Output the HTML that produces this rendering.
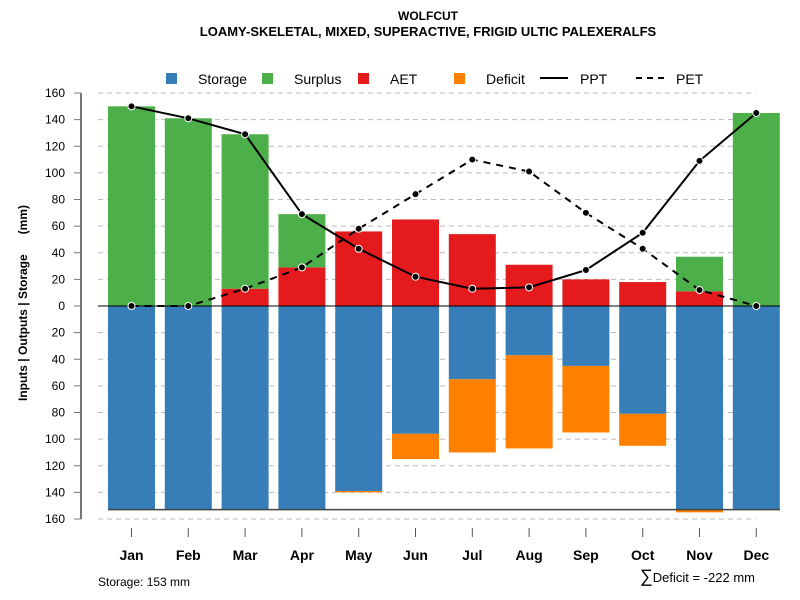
<!DOCTYPE html>
<html><head><meta charset="utf-8"><style>body{margin:0;background:#fff}svg{display:block;font-family:"Liberation Sans",Arial,sans-serif}</style></head>
<body>
<svg id="c" width="800" height="600">
<text x="428" y="20" text-anchor="middle" font-size="12" font-weight="bold">WOLFCUT</text>
<text x="428" y="36" text-anchor="middle" font-size="13" font-weight="bold">LOAMY-SKELETAL, MIXED, SUPERACTIVE, FRIGID ULTIC PALEXERALFS</text>
<text transform="translate(27,303) rotate(-90)" text-anchor="middle" font-size="12" font-weight="bold" xml:space="preserve">Inputs | Outputs | Storage      (mm)</text>
<text x="98" y="586" font-size="12">Storage: 153 mm</text>
<text x="755" y="582" text-anchor="end" font-size="13"><tspan font-size="18">∑</tspan>Deficit = -222 mm</text>
<g id="legend">
<rect x="166" y="73" width="11" height="11" fill="#377eb8"/><text x="198" y="84" font-size="14">Storage</text>
<rect x="262" y="73" width="11" height="11" fill="#4daf4a"/><text x="294" y="84" font-size="14">Surplus</text>
<rect x="358" y="73" width="11" height="11" fill="#e41a1c"/><text x="390" y="84" font-size="14">AET</text>
<rect x="454" y="73" width="11" height="11" fill="#ff7f00"/><text x="486" y="84" font-size="14">Deficit</text>
<line x1="540" y1="78" x2="568" y2="78" stroke="#000" stroke-width="2"/><text x="580" y="84" font-size="14">PPT</text>
<line x1="636" y1="78" x2="664" y2="78" stroke="#000" stroke-width="2" stroke-dasharray="6,5"/><text x="676" y="84" font-size="14">PET</text>
</g>
</svg>
<script>
const months=["Jan","Feb","Mar","Apr","May","Jun","Jul","Aug","Sep","Oct","Nov","Dec"];
const storage=[153,153,153,153,139,96,55,37,45,81,153,153];
const deficit=[0,0,0,0,1,19,55,70,50,24,2,0];
const aet=[0,0,13,29,56,65,54,31,20,18,11,0];
const surplus=[150,141,116,40,0,0,0,0,0,0,26,145];
const ppt=[150,141,129,69,43,22,13,14,27,55,109,145];
const pet=[0,0,13,29,58,84,110,101,70,43,12,0];
const yTicks=[160,140,120,100,80,60,40,20,0,-20,-40,-60,-80,-100,-120,-140,-160];
const svg=document.getElementById('c');const NS='http://www.w3.org/2000/svg';
function y(v){return 306-v*213/160;}
function x(i){return 131.5+i*56.8;}
const bw=47;
function mk(t,a,p){const e=document.createElementNS(NS,t);for(const k in a)e.setAttribute(k,a[k]);(p||svg).appendChild(e);return e;}
yTicks.forEach(v=>{
 if(v!==0){const g=mk('line',{x1:98,x2:756,y1:y(v),y2:y(v),stroke:'#bbb','stroke-dasharray':'5,4'});
 
 }
 const t=mk('line',{x1:74,x2:81,y1:y(v),y2:y(v),stroke:'#777'});
 
 
 const l=mk('text',{x:65,y:y(v)+4,'text-anchor':'end','font-size':12});l.textContent=Math.abs(v);
 
 
});
const ax=mk('line',{x1:81,x2:81,y1:y(160),y2:y(-160),stroke:'#777','stroke-width':2});


months.forEach((m,i)=>{
 const cx=x(i),L=cx-bw/2;
 function bar(v0,v1,col,n){if(v1===v0)return;const r=mk('rect',{x:L,y:Math.min(y(v0),y(v1)),width:bw,height:Math.abs(y(v1)-y(v0)),fill:col});
  
  }
 bar(0,-storage[i],'#377eb8','storage-bar-'+m.toLowerCase());
 bar(-storage[i],-storage[i]-deficit[i],'#ff7f00','deficit-bar-'+m.toLowerCase());
 bar(0,aet[i],'#e41a1c','aet-bar-'+m.toLowerCase());
 bar(aet[i],aet[i]+surplus[i],'#4daf4a','surplus-bar-'+m.toLowerCase());
 const tk=mk('line',{x1:cx,x2:cx,y1:528,y2:537,stroke:'#555'});
 
 
 const t=mk('text',{x:cx,y:560,'text-anchor':'middle','font-size':14,'font-weight':'bold'});t.textContent=m;
 
 
});
const z=mk('line',{x1:98,x2:780,y1:y(0),y2:y(0),stroke:'#000'});


const b=mk('line',{x1:108,x2:780,y1:y(-153),y2:y(-153),stroke:'#444','stroke-width':1.5});


function series(arr,dash,n){
 const p=mk('polyline',{points:arr.map((v,i)=>x(i)+','+y(v)).join(' '),fill:'none',stroke:'#000','stroke-width':2,'stroke-dasharray':dash});
 
 
 arr.forEach((v,i)=>{const c=mk('circle',{cx:x(i),cy:y(v),r:3.5,fill:'#000',stroke:'#fff','stroke-width':1});
  
  });
}
series(pet,'7,6','pet');
series(ppt,'none','ppt');
</script>
</body></html>
